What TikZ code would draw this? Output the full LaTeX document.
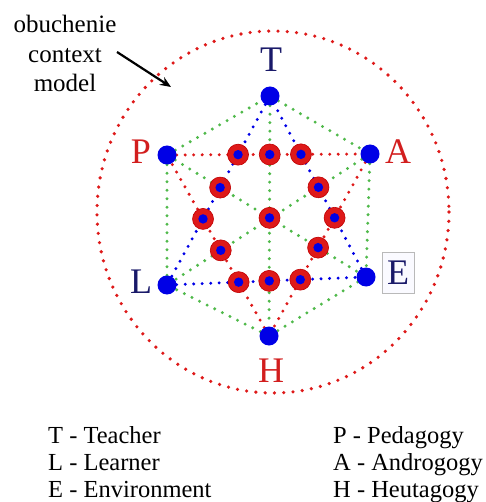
\documentclass[tikz,border=0pt]{standalone}
\usepackage{fontspec}
\setmainfont{Liberation Serif}
\usetikzlibrary{backgrounds,arrows.meta}
\definecolor{dotgreen}{RGB}{80,185,75}
\definecolor{dotred}{RGB}{222,25,25}
\definecolor{dotblue}{RGB}{0,0,230}
\definecolor{navy}{RGB}{25,25,105}
\definecolor{labred}{RGB}{210,30,30}
\tikzset{
  bluenode/.style={circle, fill=dotblue, minimum size=19pt, inner sep=0pt},
  ringnode/.style={circle, fill=dotred, draw=red!75!black, line width=0.6pt, minimum size=21pt, inner sep=0pt,
    path picture={\fill[dotblue] (path picture bounding box.center) circle (4.7pt);}},
  dotline/.style={line width=3.3pt, line cap=round, dash pattern=on 0pt off 8.5pt},
  gline/.style={dotline, dotgreen},
  rline/.style={dotline, dotred},
  bline/.style={dotline, dotblue},
  biglab/.style={font=\fontsize{36}{40}\selectfont},
  leg/.style={font=\fontsize{24.5}{28}\selectfont, anchor=base west, inner sep=0pt},
  ocm/.style={font=\fontsize{25}{29}\selectfont, anchor=base, inner sep=0pt}
}
\begin{document}
\begin{tikzpicture}[x=1pt,y=-1pt]
\path[use as bounding box] (0,0) rectangle (485,502);
% vertex coordinates
\coordinate (cT) at (270,96);
\coordinate (cP) at (167,155);
\coordinate (cA) at (370,154);
\coordinate (cL) at (167,285);
\coordinate (cE) at (366,277);
\coordinate (cH) at (269,336);
% blue nodes
\node[bluenode] (T) at (cT) {};
\node[bluenode] (P) at (cP) {};
\node[bluenode] (A) at (cA) {};
\node[bluenode] (L) at (cL) {};
\node[bluenode] (E) at (cE) {};
\node[bluenode] (H) at (cH) {};
% red ring nodes
\node[ringnode] (r1) at (intersection of cT--cL and cP--cA) {};
\node[ringnode] (r2) at (intersection of cT--cH and cP--cA) {};
\node[ringnode] (r3) at (intersection of cT--cE and cP--cA) {};
\node[ringnode] (r4) at (intersection of cT--cL and cP--cE) {};
\node[ringnode] (r5) at (intersection of cT--cE and cA--cL) {};
\node[ringnode] (r6) at (intersection of cT--cL and cP--cH) {};
\node[ringnode] (r7) at (intersection of cT--cH and cP--cE) {};
\node[ringnode] (r8) at (intersection of cT--cE and cA--cH) {};
\node[ringnode] (r9) at (intersection of cP--cH and cA--cL) {};
\node[ringnode] (r10) at (intersection of cA--cH and cP--cE) {};
\node[ringnode] (r11) at (intersection of cL--cE and cP--cH) {};
\node[ringnode] (r12) at (intersection of cL--cE and cT--cH) {};
\node[ringnode] (r13) at (intersection of cL--cE and cA--cH) {};
\begin{scope}[on background layer]
  % big circle
  \draw[dotline, dotred, line width=3.6pt, dash pattern=on 0pt off 9.3pt] (273,212) ellipse [x radius=176, y radius=181];
  % green hexagon and diagonals
  \draw[gline] (T) -- (A);
  \draw[gline] (A) -- (E);
  \draw[gline] (E) -- (H);
  \draw[gline] (H) -- (L);
  \draw[gline] (L) -- (P);
  \draw[gline] (P) -- (T);
  \draw[gline] (T) -- (H);
  \draw[gline] (P) -- (E);
  \draw[gline] (A) -- (L);
  % red triangle
  \draw[rline] (P) -- (A);
  \draw[rline] (A) -- (H);
  \draw[rline] (H) -- (P);
  % blue triangle
  \draw[bline] (T) -- (L);
  \draw[bline] (L) -- (E);
  \draw[bline] (E) -- (T);
\end{scope}
% vertex labels
\node[biglab, text=navy] (lT) at (271,60) {T};
\node[biglab, text=labred] (lH) at (271,371) {H};
\node[biglab, text=labred] (lP) at (141,152) {P};
\node[biglab, text=labred] (lA) at (398,152) {A};
\node[biglab, text=navy] (lL) at (141,282) {L};
\node[biglab, text=navy, draw=gray!55, fill=blue!2, line width=0.8pt, minimum width=32pt, minimum height=41pt, inner sep=0pt] (lE) at (398,272.5) {E};
% annotation
\node[ocm] (o1) at (65,33) {obuchenie};
\node[ocm] (o2) at (65,63) {context};
\node[ocm] (o3) at (65,92) {model};
\coordinate (arrtail) at (117,52);
\coordinate (arrhead) at (171,87);
\draw[line width=2.2pt, -{Stealth[length=11pt,width=9pt]}] (arrtail) -- (arrhead);
% legend
\node[leg] (g1) at (48,443) {T - Teacher};
\node[leg] (g2) at (48,470) {L - Learner};
\node[leg] (g3) at (48,497) {E - Environment};
\node[leg] (g4) at (333,443) {P - Pedagogy};
\node[leg] (g5) at (333,470) {A - Androgogy};
\node[leg] (g6) at (333,497) {H - Heutagogy};
\end{tikzpicture}
\end{document}
